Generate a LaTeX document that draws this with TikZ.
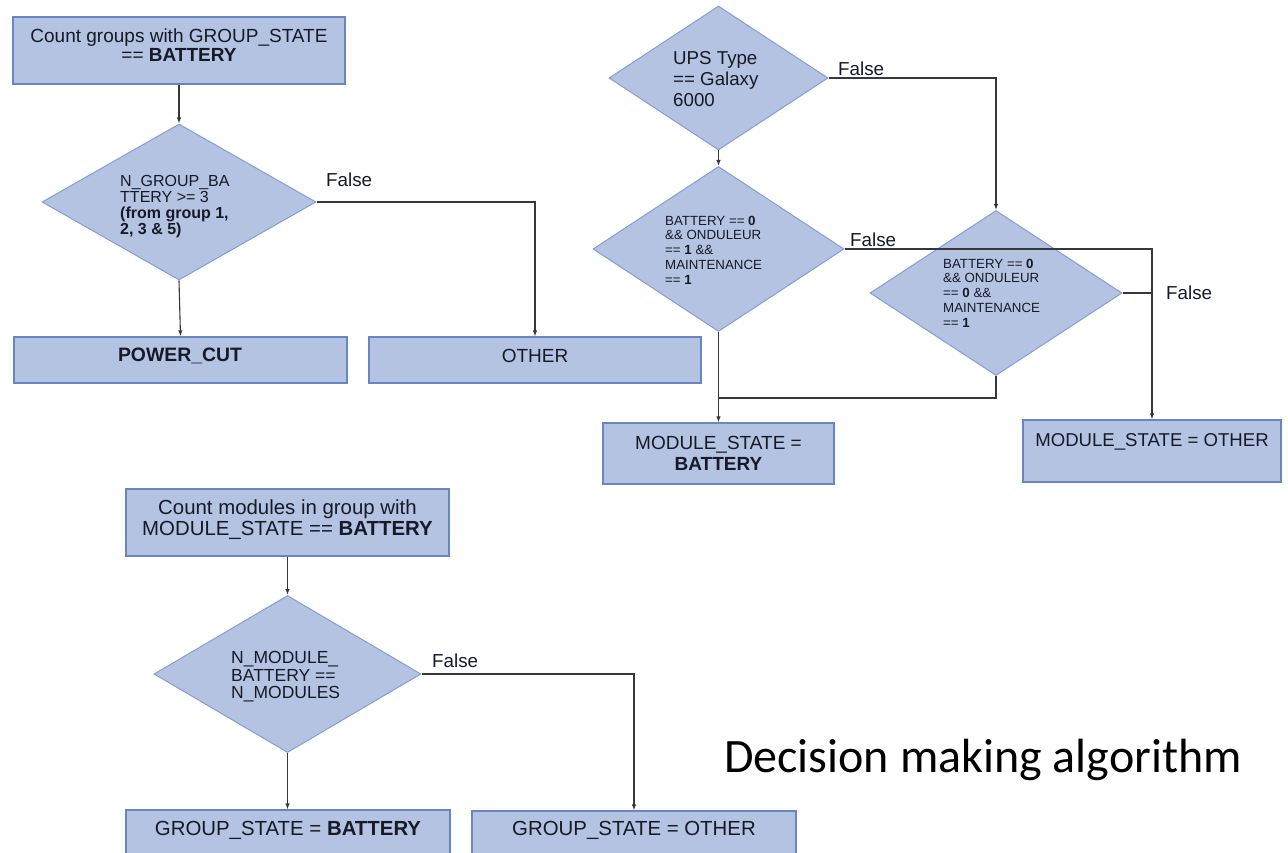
\documentclass[tikz,border=0pt]{standalone}
\usepackage{fontspec}
\setmainfont{Liberation Sans}
\newfontfamily\titlefont{Carlito}
\usetikzlibrary{arrows.meta,positioning,shapes.geometric,fit,calc}
\definecolor{boxfill}{RGB}{180,195,226}
\definecolor{boxline}{RGB}{104,134,192}
\definecolor{dline}{RGB}{132,158,212}
\definecolor{wirec}{RGB}{55,55,60}
\definecolor{ink}{RGB}{22,26,40}
\tikzset{
  stepbox/.style={draw=boxline,fill=boxfill,line width=1.2pt,inner sep=0pt},
  dec/.style={diamond,draw=dline,fill=boxfill,line width=1pt,inner sep=0pt},
  txt/.style={align=center,inner sep=0pt,text=ink},
  dtxt/.style={align=left,anchor=west,inner sep=0pt,text=ink},
  lbl/.style={anchor=west,inner sep=0pt,text=ink,font=\fontsize{18.8}{20}\selectfont},
  wire/.style={draw=wirec,line width=1.1pt},
  arr/.style={wire,-{Latex[length=6pt,width=4.5pt]}}
}
\begin{document}
\begin{tikzpicture}[x=1pt,y=-1pt]
\clip (0,0) rectangle (1288,853);
\fill[white] (0,0) rectangle (1288,853);
% group state flow
\node[stepbox,fit={(13,17) (345,84)}] (cnt) {};
\node[txt,font=\fontsize{19}{18.5}\selectfont] (cnt-t) at (179,45) {Count groups with GROUP\_STATE\\== \textbf{BATTERY}};
\node[dec,minimum width=274,minimum height=156] (d1) at (179,202) {};
\node[dtxt,font=\fontsize{16}{16}\selectfont] (d1-t) at (120,207) {N\_GROUP\_BA\\TTERY >= 3\\\textbf{(from group 1,}\\\textbf{2, 3 \& 5)}};
\node[stepbox,fit={(14,337) (347,383)}] (pcut) {};
\node[txt,font=\fontsize{19.4}{20}\selectfont] (pcut-t) at (180,356) {\textbf{POWER\_CUT}};
\node[stepbox,fit={(369,337) (701,383)}] (oth) {};
\node[txt,font=\fontsize{19}{20}\selectfont] (oth-t) at (535,356) {OTHER};
\draw[arr] (cnt.south) -- (d1.north);
\draw[arr] (d1.south) -- (pcut.north);
\draw[arr] (d1.east) -| (oth.north);
\node[lbl] (f1) at (326,180) {False};
% module state flow
\node[dec,minimum width=219,minimum height=144] (d2) at (718.5,78) {};
\node[dtxt,font=\fontsize{18.7}{21}\selectfont] (d2-t) at (673,79) {UPS Type\\== Galaxy\\6000};
\node[dec,minimum width=251,minimum height=165] (d3) at (718.5,249) {};
\node[dtxt,font=\fontsize{13.3}{14.8}\selectfont] (d3-t) at (665,250) {BATTERY == \textbf{0}\\\&\& ONDULEUR\\== \textbf{1} \&\&\\MAINTENANCE\\== \textbf{1}};
\node[dec,minimum width=252,minimum height=165] (d4) at (996,293) {};
\node[dtxt,font=\fontsize{13.3}{14.8}\selectfont] (d4-t) at (943,293) {BATTERY == \textbf{0}\\\&\& ONDULEUR\\== \textbf{0} \&\&\\MAINTENANCE\\== \textbf{1}};
\node[stepbox,fit={(603,423) (834,484)}] (msbat) {};
\node[txt,font=\fontsize{19}{21}\selectfont] (msbat-t) at (718.5,453) {MODULE\_STATE =\\\textbf{BATTERY}};
\node[stepbox,fit={(1023,420) (1281,482)}] (msoth) {};
\node[txt,font=\fontsize{18.6}{20}\selectfont] (msoth-t) at (1152,442) {MODULE\_STATE = OTHER};
\coordinate (jn) at (718.5,398);
\draw[arr] (d2.south) -- (d3.north);
\draw[arr] (d2.east) -| (d4.north);
\draw[arr] (d3.south) -- (msbat.north);
\draw[arr] (d3.east) -| (msoth.north);
\draw[wire] (d4.east) -- (d4.east -| msoth.north);
\draw[wire] (d4.south) |- (jn);
\node[lbl] (f2) at (838,69) {False};
\node[lbl] (f3) at (850,240) {False};
\node[lbl] (f4) at (1166,293) {False};
% group from modules
\node[stepbox,fit={(126,489) (449,556)}] (cntm) {};
\node[txt,font=\fontsize{20.4}{21}\selectfont] (cntm-t) at (287.5,520) {Count modules in group with\\MODULE\_STATE == \textbf{BATTERY}};
\node[dec,minimum width=267,minimum height=157] (d5) at (287.5,674) {};
\node[dtxt,font=\fontsize{17.5}{17.5}\selectfont] (d5-t) at (231,677) {N\_MODULE\_\\BATTERY ==\\N\_MODULES};
\node[stepbox,fit={(126,810) (450,870)}] (gsbat) {};
\node[txt,font=\fontsize{20.4}{21}\selectfont] (gsbat-t) at (288,830) {GROUP\_STATE = \textbf{BATTERY}};
\node[stepbox,fit={(472,811) (796,870)}] (gsoth) {};
\node[txt,font=\fontsize{20.4}{21}\selectfont] (gsoth-t) at (634,830) {GROUP\_STATE = OTHER};
\draw[arr] (cntm.south) -- (d5.north);
\draw[arr] (d5.south) -- (d5.south |- gsbat.north);
\draw[arr] (d5.east) -| (gsoth.north);
\node[lbl] (f5) at (432,661) {False};
\node[font=\titlefont\fontsize{48}{48}\selectfont,inner sep=0pt,anchor=base west] (title) at (724,772) {Decision making algorithm};
\end{tikzpicture}
\end{document}
